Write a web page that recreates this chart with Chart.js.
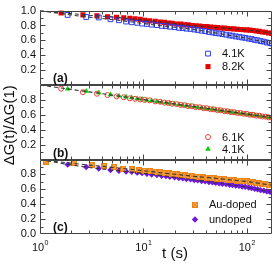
<!DOCTYPE html>
<html>
<head>
<meta charset="utf-8">
<script src="https://cdn.jsdelivr.net/npm/chart.js@4.4.1/dist/chart.umd.min.js"></script>
<style>
    html, body { margin: 0; padding: 0; background: #fff; }
    #caixa { position: relative; width: 277px; height: 266px; }
</style>
</head>
<body>
<div id="caixa"><canvas id="grafico" width="277" height="266"></canvas></div>
<script>
// tempos (s) de cada serie
const timesA = [1.6, 2.6, 3.55, 4.5, 5.5, 6.45, 7.4, 8.3, 9.3, 10.3, 11.5, 13, 14.5, 16, 17.5, 19, 21, 23, 25, 27, 29.5, 32, 35, 38, 41, 44.5, 48, 52, 56, 60.5, 65, 70, 75, 81, 87, 93, 100, 107, 115, 123, 132, 141, 151, 162, 174];
const timesB = [1.85, 2.8, 3.7, 4.8, 5.8, 6.8, 7.7, 8.7, 9.7, 10.8, 12, 13.5, 15, 16.5, 18, 20, 22, 24, 26, 28.5, 31, 33.5, 36.5, 39.5, 43, 46.5, 50, 54, 58, 63, 68, 72.5, 78, 84, 90, 96.5, 104, 111, 119, 127, 136, 146, 156, 167, 175];
const timesC = [1.15, 2.15, 3.15, 4.15, 5.2, 6.4, 7.7, 9, 10.3, 11.5, 13, 14.5, 16, 17.5, 19, 21, 23, 25, 27, 29.5, 32, 35, 38, 41, 44.5, 48, 52, 56, 60.5, 65, 70, 75, 81, 87, 93, 100, 107, 115, 123, 132, 141, 151, 162, 174];

// painel (a)
const blue41 = [0.942, 0.914, 0.908, 0.884, 0.871, 0.853, 0.843, 0.836, 0.826, 0.821, 0.812, 0.806, 0.795, 0.792, 0.783, 0.778, 0.769, 0.766, 0.758, 0.754, 0.746, 0.740, 0.730, 0.724, 0.713, 0.707, 0.697, 0.693, 0.684, 0.677, 0.667, 0.663, 0.653, 0.648, 0.639, 0.634, 0.624, 0.618, 0.607, 0.601, 0.590, 0.583, 0.572, 0.566, 0.558];
const red82 = [0.970, 0.942, 0.931, 0.918, 0.910, 0.902, 0.898, 0.889, 0.882, 0.870, 0.862, 0.855, 0.846, 0.842, 0.833, 0.830, 0.821, 0.818, 0.810, 0.808, 0.800, 0.797, 0.793, 0.786, 0.785, 0.779, 0.776, 0.773, 0.767, 0.765, 0.760, 0.757, 0.754, 0.749, 0.747, 0.743, 0.741, 0.738, 0.733, 0.725, 0.721, 0.713, 0.709, 0.700, 0.694];
// painel (b)
const circ61 = [0.952, 0.905, 0.884, 0.866, 0.848, 0.836, 0.822, 0.815, 0.807, 0.800, 0.795, 0.780, 0.776, 0.763, 0.759, 0.749, 0.744, 0.733, 0.730, 0.718, 0.715, 0.704, 0.702, 0.690, 0.688, 0.676, 0.674, 0.663, 0.661, 0.650, 0.648, 0.637, 0.636, 0.625, 0.624, 0.614, 0.612, 0.601, 0.600, 0.590, 0.588, 0.578, 0.576, 0.566, 0.562];
const tri41 = [0.948, 0.918, 0.897, 0.872, 0.855, 0.840, 0.831, 0.818, 0.810, 0.799, 0.791, 0.781, 0.771, 0.763, 0.756, 0.746, 0.739, 0.731, 0.724, 0.716, 0.709, 0.703, 0.695, 0.689, 0.681, 0.675, 0.669, 0.662, 0.656, 0.649, 0.642, 0.637, 0.631, 0.625, 0.619, 0.613, 0.607, 0.601, 0.595, 0.590, 0.584, 0.578, 0.572, 0.566, 0.562];
// painel (c)
const auDoped = [0.973, 0.956, 0.930, 0.910, 0.900, 0.877, 0.867, 0.857, 0.848, 0.841, 0.830, 0.826, 0.816, 0.813, 0.805, 0.800, 0.791, 0.789, 0.781, 0.777, 0.770, 0.767, 0.760, 0.758, 0.751, 0.749, 0.742, 0.740, 0.733, 0.731, 0.724, 0.723, 0.716, 0.714, 0.708, 0.706, 0.698, 0.693, 0.685, 0.681, 0.672, 0.669, 0.660, 0.654];
const undoped = [0.932, 0.900, 0.878, 0.859, 0.849, 0.839, 0.836, 0.824, 0.818, 0.810, 0.800, 0.793, 0.782, 0.777, 0.768, 0.762, 0.752, 0.748, 0.739, 0.735, 0.726, 0.722, 0.712, 0.708, 0.698, 0.695, 0.686, 0.682, 0.673, 0.670, 0.660, 0.658, 0.649, 0.646, 0.637, 0.634, 0.624, 0.618, 0.606, 0.601, 0.589, 0.583, 0.572, 0.566, 0.558];

// curvas ajustadas (tracejadas)
const fitTimes = [1, 1.5, 2, 3, 5, 7, 10, 15, 20, 30, 50, 70, 100, 140, 175];
const fitRed82 = [1.0, 0.975, 0.960, 0.937, 0.915, 0.895, 0.873, 0.846, 0.826, 0.800, 0.774, 0.758, 0.742, 0.718, 0.695];
const fitBlue41 = [1.0, 0.965, 0.940, 0.912, 0.880, 0.855, 0.826, 0.796, 0.777, 0.749, 0.699, 0.666, 0.628, 0.587, 0.558];
const fitB = [1.0, 0.966, 0.942, 0.908, 0.865, 0.836, 0.805, 0.771, 0.747, 0.712, 0.669, 0.640, 0.610, 0.581, 0.562];
const fitAu = [1.0, 0.970, 0.952, 0.925, 0.895, 0.873, 0.850, 0.821, 0.803, 0.776, 0.748, 0.726, 0.705, 0.675, 0.655];
const fitUndoped = [1.0, 0.955, 0.928, 0.893, 0.858, 0.838, 0.815, 0.785, 0.762, 0.730, 0.687, 0.659, 0.628, 0.588, 0.558];

const xMin = 1, xMax = 175;
const xTickExps = [0, 1, 2];
const yTicks = [0, 0.2, 0.4, 0.6, 0.8, 1.0];
const panelIds = ['yA', 'yB', 'yC'];
const panelLetters = ['(a)', '(b)', '(c)'];

const fonte = '"Liberation Sans", Arial, sans-serif';

function pares(xs, ys) {
    return ys.map((v, i) => ({x: xs[i], y: v}));
}

// marcador quadrado com X (Au-doped)
function marcadorX() {
    const c = document.createElement('canvas');
    c.width = 6; c.height = 6;
    const g = c.getContext('2d');
    g.fillStyle = '#f6b060';
    g.fillRect(0, 0, 6, 6);
    g.strokeStyle = '#ee8418';
    g.lineWidth = 1;
    g.strokeRect(0.5, 0.5, 5, 5);
    g.beginPath();
    g.moveTo(0, 0); g.lineTo(6, 6);
    g.moveTo(6, 0); g.lineTo(0, 6);
    g.stroke();
    return c;
}
const simboloAu = marcadorX();

function pontos(label, xs, ys, eixo, estilo) {
    return Object.assign({
        label: label,
        data: pares(xs, ys),
        yAxisID: eixo,
        showLine: false,
        order: 1
    }, estilo);
}

function ajuste(ys, eixo) {
    return {
        label: 'fit',
        data: pares(fitTimes, ys),
        yAxisID: eixo,
        showLine: true,
        borderColor: '#333',
        borderWidth: 1.1,
        borderDash: [4, 3],
        pointRadius: 0,
        fill: false,
        order: 0
    };
}

const datasets = [
    pontos('4.1K', timesB, blue41, 'yA', {pointStyle: 'rect', pointRadius: 3.4, borderColor: '#2a3ce8', backgroundColor: 'rgba(0,0,0,0)', borderWidth: 1}),
    pontos('8.2K', timesA, red82, 'yA', {pointStyle: 'rect', pointRadius: 3.6, borderColor: '#e80000', backgroundColor: '#e80000', borderWidth: 0}),
    pontos('6.1K', timesA, circ61, 'yB', {pointStyle: 'circle', pointRadius: 2.5, borderColor: '#f03c3c', backgroundColor: 'rgba(0,0,0,0)', borderWidth: 1}),
    pontos('4.1K', timesB, tri41, 'yB', {pointStyle: 'triangle', pointRadius: 3.2, borderColor: '#00d000', backgroundColor: '#00d000', borderWidth: 0}),
    pontos('Au-doped', timesC, auDoped, 'yC', {pointStyle: simboloAu, pointRadius: 3, borderColor: '#ee8418', backgroundColor: '#f6b060', borderWidth: 0}),
    pontos('undoped', timesB, undoped, 'yC', {pointStyle: 'rectRot', pointRadius: 3.2, borderColor: '#7018e0', backgroundColor: '#7018e0', borderWidth: 0}),
    ajuste(fitBlue41, 'yA'),
    ajuste(fitRed82, 'yA'),
    ajuste(fitB, 'yB'),
    ajuste(fitAu, 'yC'),
    ajuste(fitUndoped, 'yC')
];

// legendas de cada painel: [indice do dataset, deslocamento vertical a partir do topo do painel]
const legendas = [
    {ds: 0, painel: 'yA', dy: 43},
    {ds: 1, painel: 'yA', dy: 56},
    {ds: 2, painel: 'yB', dy: 52},
    {ds: 3, painel: 'yB', dy: 64},
    {ds: 4, painel: 'yC', dy: 45},
    {ds: 5, painel: 'yC', dy: 60}
];

function eixoY(id, primeiro, ultimo) {
    return {
        type: 'linear',
        position: 'left',
        stack: 'paineis',
        stackWeight: 1,
        min: 0,
        max: 1,
        afterFit: s => { s.width = 40; },
        afterBuildTicks: s => { s.ticks = yTicks.map(v => ({value: v})); },
        grid: {display: false, drawTicks: false},
        border: {display: false},
        ticks: {
            autoSkip: false,
            padding: 4,
            color: '#111',
            font: {family: fonte, size: 11},
            callback: v => {
                if (v > 0.99 && !primeiro) return '';
                if (v < 0.01 && !ultimo) return '';
                return v.toFixed(1);
            }
        }
    };
}

const moldura = {
    id: 'moldura',
    afterDraw(chart) {
        const ctx = chart.ctx;
        const area = chart.chartArea;
        const xs = chart.scales.x;
        const esq = Math.round(area.left) + 0.5;
        const dir = Math.round(area.right) - 0.5;
        ctx.save();
        ctx.strokeStyle = '#444';
        ctx.lineWidth = 1;
        panelIds.forEach((id, k) => {
            const s = chart.scales[id];
            const topo = Math.round(s.top) + 0.5;
            const base = Math.round(s.bottom) - 0.5;
            ctx.beginPath();
            ctx.rect(esq, topo, dir - esq, base - topo);
            // ticks y (dentro)
            for (let i = 1; i < 10; i++) {
                const py = Math.round(s.getPixelForValue(i / 10)) + 0.5;
                const len = i % 2 === 0 ? 5 : 3;
                ctx.moveTo(esq, py); ctx.lineTo(esq + len, py);
                ctx.moveTo(dir, py); ctx.lineTo(dir - len, py);
            }
            // ticks x (dentro, em cima e em baixo)
            [1, 10, 100].forEach(d => {
                for (let m = 1; m < 10; m++) {
                    const v = m * d;
                    if (v <= xMin || v >= xMax) continue;
                    const px = Math.round(xs.getPixelForValue(v)) + 0.5;
                    const len = m === 1 ? 5 : 3;
                    ctx.moveTo(px, topo); ctx.lineTo(px, topo + len);
                    ctx.moveTo(px, base); ctx.lineTo(px, base - len);
                }
            });
            ctx.stroke();

            // letra do painel
            ctx.fillStyle = '#111';
            ctx.font = 'bold 12px ' + fonte;
            ctx.textAlign = 'left';
            ctx.textBaseline = 'alphabetic';
            ctx.fillText(panelLetters[k], area.left + 13, s.bottom - 3);
        });

        // legendas
        ctx.font = '11px ' + fonte;
        ctx.textBaseline = 'middle';
        legendas.forEach(l => {
            const s = chart.scales[l.painel];
            const ds = chart.data.datasets[l.ds];
            const y = s.top + l.dy;
            const mx = l.painel === 'yC' ? area.left + 155 : area.left + 168;
            ctx.save();
            ctx.fillStyle = ds.backgroundColor;
            ctx.strokeStyle = ds.borderColor;
            ctx.lineWidth = ds.borderWidth;
            Chart.helpers.drawPoint(ctx, {pointStyle: ds.pointStyle, radius: ds.pointRadius, borderWidth: ds.borderWidth, rotation: 0}, mx, y);
            ctx.restore();
            ctx.fillStyle = '#111';
            ctx.fillText(ds.label, mx + 14, y + 0.5);
        });

        // rotulos do eixo x: 10^n
        ctx.textBaseline = 'alphabetic';
        xTickExps.forEach(e => {
            const px = xs.getPixelForValue(Math.pow(10, e));
            ctx.font = '11px ' + fonte;
            const w = ctx.measureText('10').width;
            ctx.textAlign = 'left';
            ctx.fillText('10', px - w / 2 - 2, area.bottom + 17);
            ctx.font = '7px ' + fonte;
            ctx.fillText(String(e), px + w / 2 - 1.5, area.bottom + 11);
        });

        // titulos
        ctx.font = '15px ' + fonte;
        ctx.textAlign = 'center';
        ctx.fillText('t (s)', (area.left + area.right) / 2 + 19, area.bottom + 24 - 0);
        ctx.save();
        ctx.translate(10, (area.top + area.bottom) / 2 + 3);
        ctx.rotate(-Math.PI / 2);
        ctx.textBaseline = 'middle';
        ctx.fillText('\u0394G(t)/\u0394G(1)', 0, 0);
        ctx.restore();
        ctx.restore();
    }
};

new Chart(document.getElementById('grafico'), {
    type: 'scatter',
    data: {datasets: datasets},
    options: {
        responsive: false,
        animation: false,
        devicePixelRatio: 1,
        layout: {padding: {top: 9, right: 4, left: 0, bottom: 0}},
        plugins: {legend: {display: false}, tooltip: {enabled: false}},
        scales: {
            x: {
                type: 'logarithmic',
                min: xMin,
                max: xMax,
                afterFit: s => { s.height = 32; },
                grid: {display: false, drawTicks: false},
                border: {display: false},
                ticks: {display: false}
            },
            yC: eixoY('yC', false, true),
            yB: eixoY('yB', false, false),
            yA: eixoY('yA', true, false)
        }
    },
    plugins: [moldura]
});
</script>
</body>
</html>
